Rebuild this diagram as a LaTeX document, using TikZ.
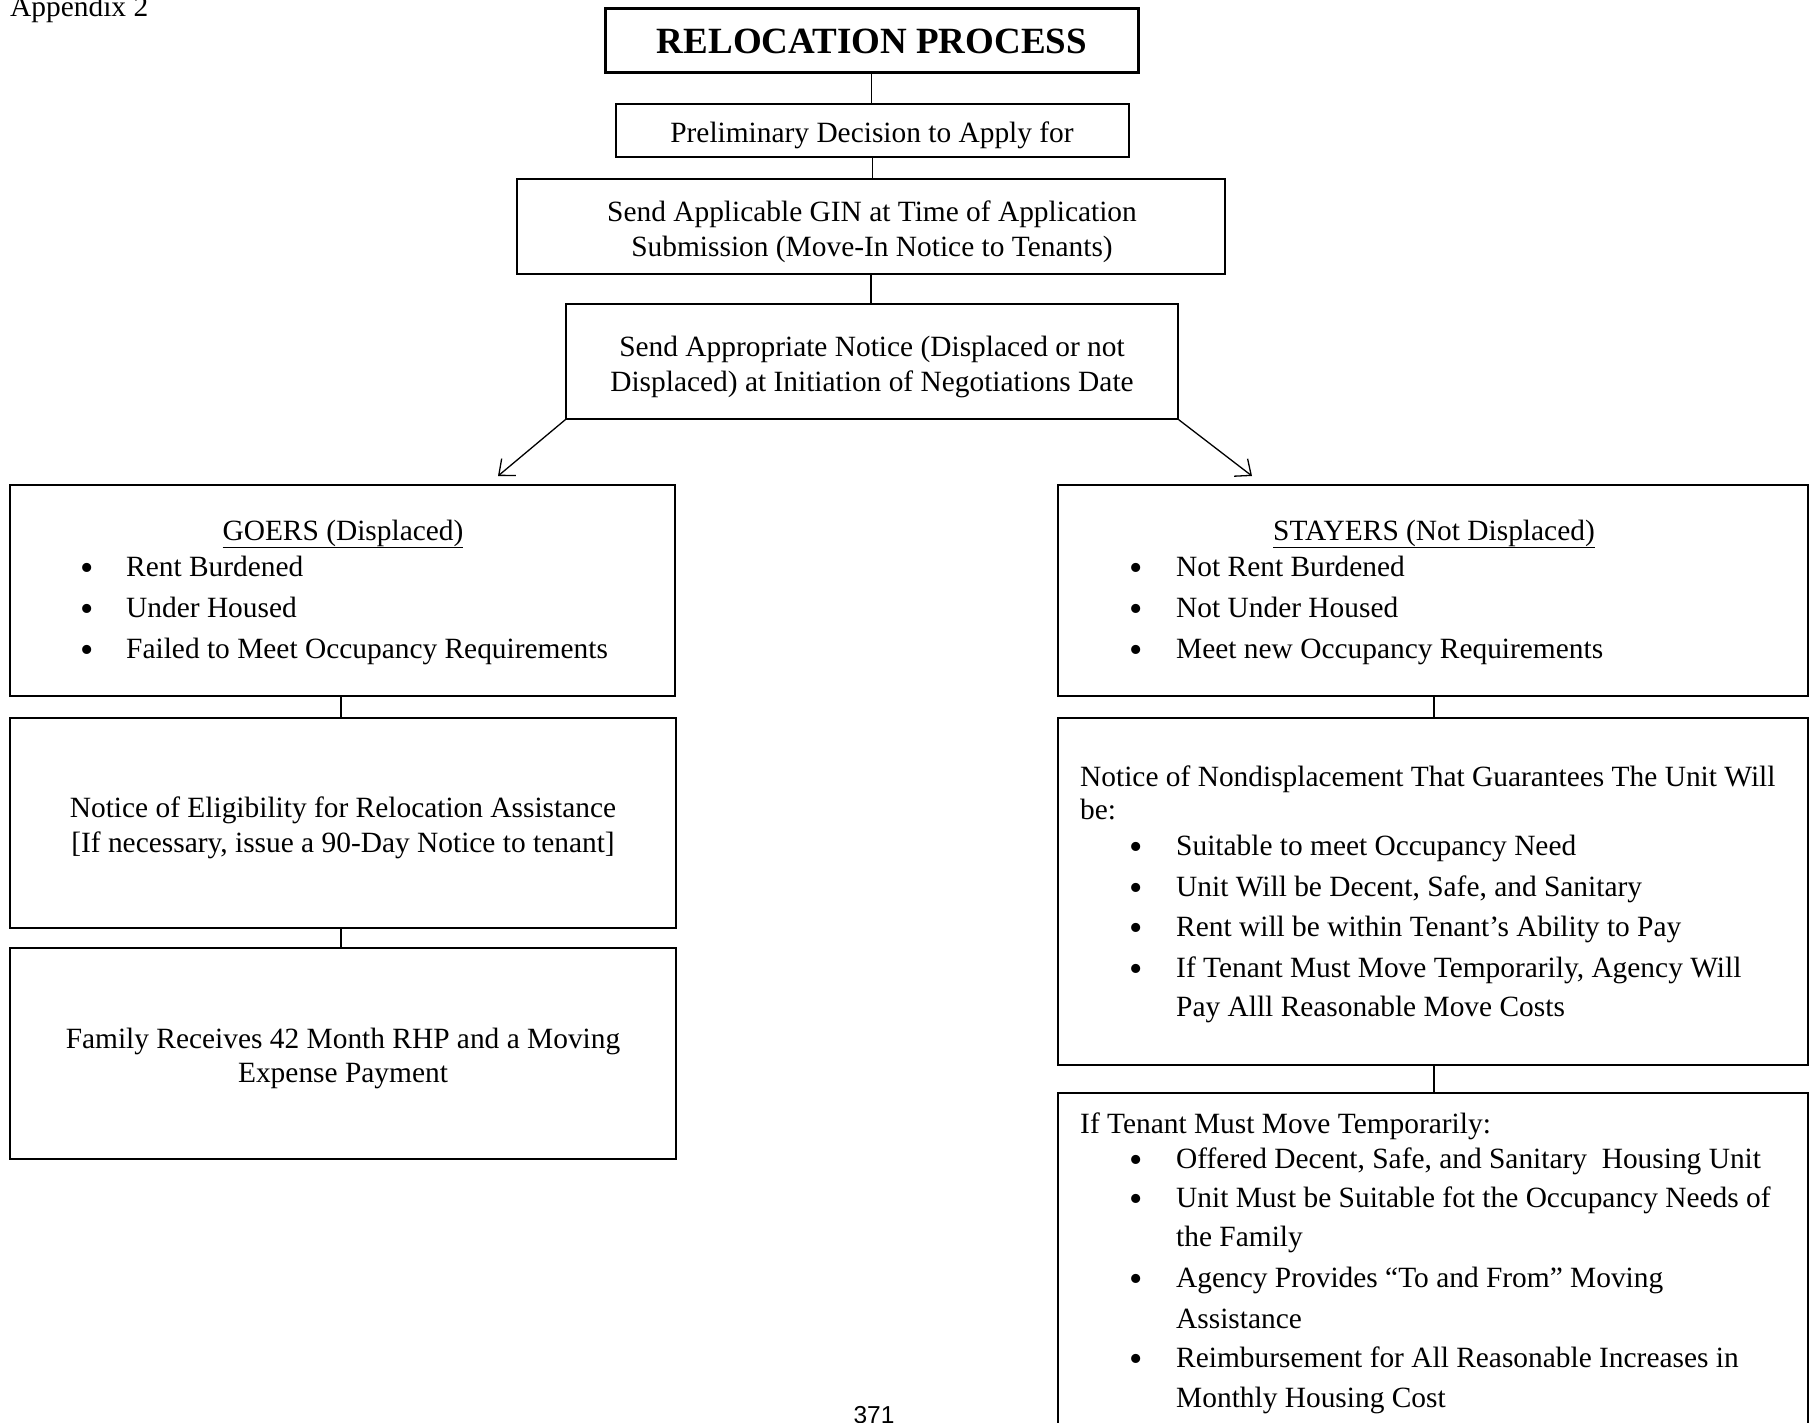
\documentclass[tikz,border=0pt]{standalone}
\usepackage{fontspec}
\setmainfont{Liberation Serif}
\newfontfamily\pagenofont{Liberation Sans}
\usetikzlibrary{arrows.meta}
\begin{document}
\begin{tikzpicture}[x=1pt,y=-1pt,
  box/.style={draw, line width=1.3pt, inner sep=0pt},
  conn/.style={line width=1.3pt},
  arr/.style={line width=1.3pt, -{Straight Barb[length=13pt,width=22pt,line width=1.3pt]}},
  txt/.style={inner sep=0pt, anchor=base, font=\fontsize{29.4}{34}\selectfont},
  ltxt/.style={txt, anchor=base west},
  bul/.style={inner sep=0pt, anchor=base, font=\fontsize{38}{40}\selectfont, yshift=-4.5pt}
]
\useasboundingbox[fill=white] (0,0) rectangle (1815,1422);

% page label and number
\node[ltxt] (app) at (10,16) {Appendix 2};
\node[inner sep=0pt, anchor=base, font=\pagenofont\fontsize{24.5}{28}\selectfont] (pg) at (874,1423) {371};

% top chain
\node[box, line width=3pt, minimum width=533pt, minimum height=64pt] (title) at (871.5,40) {};
\node[txt, font=\bfseries\fontsize{37}{40}\selectfont] (titletxt) at (872,53) {RELOCATION PROCESS};

\node[box, minimum width=513pt, minimum height=53pt] (prelim) at (872.5,130.5) {};
\node[txt] (prelimtxt) at (872,142) {Preliminary Decision to Apply for};

\node[box, minimum width=708pt, minimum height=95pt] (gin) at (871,226.5) {};
\node[txt] (gin1) at (872,221) {Send Applicable GIN at Time of Application};
\node[txt] (gin2) at (872,256) {Submission (Move-In Notice to Tenants)};

\node[box, minimum width=612pt, minimum height=115pt] (notice) at (872,361.5) {};
\node[txt] (not1) at (872,356) {Send Appropriate Notice (Displaced or not};
\node[txt] (not2) at (872,391) {Displaced) at Initiation of Negotiations Date};

\draw[conn] (title.south) -- (title.south |- prelim.north);
\draw[conn] (prelim.south) -- (prelim.south |- gin.north);
\draw[conn] (gin.south) -- (gin.south |- notice.north);

% left column
\node[box, minimum width=665pt, minimum height=211pt] (goers) at (342.5,590.5) {};
\node[txt] (goersh) at (343,540) {\underline{GOERS (Displaced)}};
\node[bul] (gb1) at (87,576) {•};
\node[ltxt] (gt1) at (126,576) {Rent Burdened};
\node[bul] (gb2) at (87,617) {•};
\node[ltxt] (gt2) at (126,617) {Under Housed};
\node[bul] (gb3) at (87,658) {•};
\node[ltxt] (gt3) at (126,658) {Failed to Meet Occupancy Requirements};

\node[box, minimum width=666pt, minimum height=210pt] (elig) at (343,823) {};
\node[txt] (el1) at (343,817) {Notice of Eligibility for Relocation Assistance};
\node[txt] (el2) at (343,852) {[If necessary, issue a 90-Day Notice to tenant]};

\node[box, minimum width=666pt, minimum height=211pt] (family) at (343,1053.5) {};
\node[txt] (fa1) at (343,1048) {Family Receives 42 Month RHP and a Moving};
\node[txt] (fa2) at (343,1082) {Expense Payment};

\draw[conn] (341,696) coordinate (gs) -- (gs |- elig.north);
\draw[conn] (341,928) coordinate (es) -- (es |- family.north);

% right column
\node[box, minimum width=750pt, minimum height=211pt] (stayers) at (1433,590.5) {};
\node[txt] (stayh) at (1434,540) {\underline{STAYERS (Not Displaced)}};
\node[bul] (sb1) at (1136,576) {•};
\node[ltxt] (st1) at (1176,576) {Not Rent Burdened};
\node[bul] (sb2) at (1136,617) {•};
\node[ltxt] (st2) at (1176,617) {Not Under Housed};
\node[bul] (sb3) at (1136,658) {•};
\node[ltxt] (st3) at (1176,658) {Meet new Occupancy Requirements};

\node[box, minimum width=750pt, minimum height=347pt] (nondisp) at (1433,891.5) {};
\node[ltxt] (nd1) at (1080,786) {Notice of Nondisplacement That Guarantees The Unit Will};
\node[ltxt] (nd2) at (1080,819) {be:};
\node[bul] (nb1) at (1136,855) {•};
\node[ltxt] (nt1) at (1176,855) {Suitable to meet Occupancy Need};
\node[bul] (nb2) at (1136,896) {•};
\node[ltxt] (nt2) at (1176,896) {Unit Will be Decent, Safe, and Sanitary};
\node[bul] (nb3) at (1136,936) {•};
\node[ltxt] (nt3) at (1176,936) {Rent will be within Tenant’s Ability to Pay};
\node[bul] (nb4) at (1136,977) {•};
\node[ltxt] (nt4) at (1176,977) {If Tenant Must Move Temporarily, Agency Will};
\node[ltxt] (nt5) at (1176,1016) {Pay Alll Reasonable Move Costs};

\node[box, minimum width=750pt, minimum height=360pt] (temp) at (1433,1273) {};
\node[ltxt] (tp0) at (1080,1133) {If Tenant Must Move Temporarily:};
\node[bul] (tb1) at (1136,1168) {•};
\node[ltxt] (tt1) at (1176,1168) {Offered Decent, Safe, and Sanitary\ \ Housing Unit};
\node[bul] (tb2) at (1136,1207) {•};
\node[ltxt] (tt2) at (1176,1207) {Unit Must be Suitable fot the Occupancy Needs of};
\node[ltxt] (tt2b) at (1176,1246) {the Family};
\node[bul] (tb3) at (1136,1287) {•};
\node[ltxt] (tt3) at (1176,1287) {Agency Provides “To and From” Moving};
\node[ltxt] (tt3b) at (1176,1328) {Assistance};
\node[bul] (tb4) at (1136,1367) {•};
\node[ltxt] (tt4) at (1176,1367) {Reimbursement for All Reasonable Increases in};
\node[ltxt] (tt4b) at (1176,1407) {Monthly Housing Cost};

\draw[conn] (1434,696) coordinate (ss) -- (ss |- nondisp.north);
\draw[conn] (1434,1065) coordinate (ns) -- (ns |- temp.north);

% arrows
\coordinate (la) at (498,476);
\coordinate (ra) at (1252,476);
\draw[arr] (notice.south west) -- (la);
\draw[arr] (notice.south east) -- (ra);
\end{tikzpicture}
\end{document}
